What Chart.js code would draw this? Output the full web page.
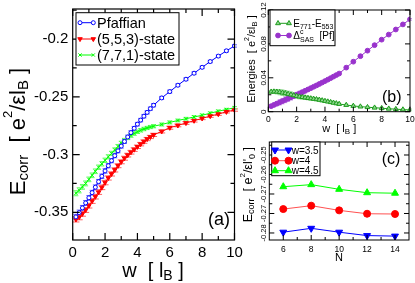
<!DOCTYPE html>
<html>
<head>
<meta charset="utf-8">
<title>Correlation energies</title>
<script src="https://cdn.jsdelivr.net/npm/chart.js@4.4.1/dist/chart.umd.min.js"></script>
<style>
  html, body { margin: 0; padding: 0; background: #fff; }
  #wrap { position: relative; width: 415px; height: 283px; overflow: hidden; }
  canvas { position: absolute; }
</style>
</head>
<body>
<div id="wrap">
  <canvas id="chartA" width="250" height="283" style="left:0;top:0"></canvas>
  <canvas id="chartB" width="205" height="140" style="left:210px;top:0"></canvas>
  <canvas id="chartC" width="205" height="153" style="left:210px;top:130px"></canvas>
</div>
<script>
// panel (a): correlation energy vs width w
const wA = [0.2, 0.4, 0.6, 0.8, 1.0, 1.2, 1.4, 1.6, 1.8, 2.0, 2.2, 2.4, 2.6, 2.8, 3.0, 3.2, 3.4, 3.6, 3.8, 4.0,
  4.2, 4.4, 4.6, 4.8, 5.0, 5.5, 6.0, 6.5, 7.0, 7.5, 8.0, 8.5, 9.0, 9.5, 10];
const pfaffian = [-0.3540, -0.3503, -0.3462, -0.3419, -0.3375, -0.3330, -0.3283, -0.3235, -0.3188, -0.3142,
  -0.3097, -0.3053, -0.3010, -0.2968, -0.2927, -0.2887, -0.2848, -0.2810, -0.2773, -0.2737,
  -0.2702, -0.2668, -0.2635, -0.2603, -0.2573, -0.2510, -0.2455, -0.2400, -0.2348, -0.2296,
  -0.2245, -0.2195, -0.2148, -0.2102, -0.2060];
const state553 = [-0.3562, -0.3543, -0.3513, -0.3480, -0.3443, -0.3403, -0.3365, -0.3326, -0.3285, -0.3243,
  -0.3203, -0.3168, -0.3133, -0.3097, -0.3063, -0.3032, -0.3005, -0.2980, -0.2957, -0.2933,
  -0.2910, -0.2888, -0.2866, -0.2848, -0.2830, -0.2800, -0.2768, -0.2748, -0.2727, -0.2707,
  -0.2687, -0.2667, -0.2650, -0.2630, -0.2615];
const state771 = [-0.3335, -0.3310, -0.3280, -0.3250, -0.3215, -0.3180, -0.3145, -0.3110, -0.3080, -0.3050,
  -0.3020, -0.2990, -0.2960, -0.2930, -0.2902, -0.2877, -0.2855, -0.2835, -0.2818, -0.2803,
  -0.2790, -0.2779, -0.2770, -0.2762, -0.2755, -0.2740, -0.2722, -0.2705, -0.2690, -0.2675,
  -0.2660, -0.2642, -0.2625, -0.2610, -0.2595];
const errA = [0.0022, 0.0022, 0.0021, 0.0021, 0.0020, 0.0020, 0.0020, 0.0019, 0.0019, 0.0019,
  0.0018, 0.0018, 0.0018, 0.0017, 0.0017, 0.0017, 0.0016, 0.0016, 0.0016, 0.0015,
  0.0015, 0.0015, 0.0014, 0.0014, 0.0014, 0.0013, 0.0013, 0.0012, 0.0012, 0.0012,
  0.0011, 0.0011, 0.0011, 0.0010, 0.0010];

// panel (b): energy differences
const gap771 = [0.0235, 0.0237, 0.0235, 0.0230, 0.0224, 0.0217, 0.0209, 0.0201, 0.0193, 0.0185,
  0.0178, 0.0172, 0.0166, 0.0161, 0.0156, 0.0151, 0.0146, 0.0140, 0.0133, 0.0126,
  0.0119, 0.0112, 0.0105, 0.0098, 0.0091, 0.0079, 0.0068, 0.0060, 0.0053, 0.0047,
  0.0041, 0.0035, 0.0030, 0.0025, 0.0021];
const deltaSAS = [0.0065, 0.0080, 0.0095, 0.0110, 0.0125, 0.0140, 0.0155, 0.0170, 0.0185, 0.0200,
  0.0215, 0.0230, 0.0246, 0.0262, 0.0278, 0.0294, 0.0310, 0.0327, 0.0344, 0.0361,
  0.0378, 0.0396, 0.0414, 0.0432, 0.0450, 0.0520, 0.0590, 0.0655, 0.0720, 0.0785,
  0.0850, 0.0910, 0.0970, 0.1030, 0.1090];
const errB = [0.0015, 0.0020, 0.0025, 0.0030, 0.0032, 0.0033, 0.0033, 0.0032, 0.0030, 0.0028,
  0.0026, 0.0024, 0.0022, 0.0020, 0.0018, 0.0017, 0.0016, 0.0015, 0.0014, 0.0013,
  0.0013, 0.0012, 0.0012, 0.0011, 0.0011, 0.0010, 0.0010, 0.0010, 0.0010, 0.0010,
  0.0010, 0.0010, 0.0010, 0.0010, 0.0010];

// panel (c): energy vs particle number N
const nC = [6, 8, 10, 12, 14];
const w35 = [-0.2797, -0.2782, -0.2797, -0.2810, -0.2812];
const w4 = [-0.2708, -0.2695, -0.2713, -0.2726, -0.2727];
const w45 = [-0.2622, -0.2614, -0.2632, -0.2645, -0.2647];

// tick labels
const ticksW = [0, 2, 4, 6, 8, 10];
const ticksAy = [-0.35, -0.3, -0.25, -0.2];
const ticksBy = [0, 0.04, 0.08, 0.12];
const ticksCx = [6, 8, 10, 12, 14];
const ticksCy = [-0.28, -0.2725, -0.265, -0.2575, -0.25];

const FONT = '"Liberation Sans", Arial, Helvetica, sans-serif';
const f = size => size + 'px ' + FONT;
const seg = (t, size, dy, adv) => ({ t, size, dy: dy || 0, adv: adv !== false });
const pts = (xs, ys) => xs.map((x, i) => ({ x, y: ys[i] }));

// text with sub/superscripts, centred (or left aligned) at x,y
function rich(ctx, segs, x, y, rot, align) {
  ctx.save();
  ctx.translate(x, y);
  if (rot) ctx.rotate(-Math.PI / 2);
  ctx.textAlign = 'left';
  ctx.textBaseline = 'alphabetic';
  ctx.fillStyle = '#000';
  let w = 0;
  for (const s of segs) { ctx.font = f(s.size); if (s.adv) w += ctx.measureText(s.t).width; }
  let cx = align === 'left' ? 0 : -w / 2;
  for (const s of segs) {
    ctx.font = f(s.size);
    ctx.fillText(s.t, cx, s.dy);
    if (s.adv) cx += ctx.measureText(s.t).width;
  }
  ctx.restore();
}

function minorTicks(scale) {
  const v = scale.ticks.map(t => t.value);
  const out = [];
  for (let i = 0; i < v.length - 1; i++) out.push((v[i] + v[i + 1]) / 2);
  if (v.length > 1) {
    const h = (v[1] - v[0]) / 2;
    out.push(v[0] - h, v[v.length - 1] + h);
  }
  return out.filter(m => m > scale.min && m < scale.max);
}

const errorBars = {
  id: 'errorBars',
  beforeDatasetsDraw(chart) {
    const ctx = chart.ctx, y = chart.scales.y;
    chart.data.datasets.forEach((ds, i) => {
      if (!ds.err) return;
      const meta = chart.getDatasetMeta(i);
      const c = ds.errCap;
      ctx.save();
      ctx.strokeStyle = ds.errColor;
      ctx.lineWidth = 1;
      ctx.beginPath();
      meta.data.forEach((pt, j) => {
        const y1 = y.getPixelForValue(ds.data[j].y + ds.err[j]);
        const y2 = y.getPixelForValue(ds.data[j].y - ds.err[j]);
        ctx.moveTo(pt.x, y1); ctx.lineTo(pt.x, y2);
        ctx.moveTo(pt.x - c, y1); ctx.lineTo(pt.x + c, y1);
        ctx.moveTo(pt.x - c, y2); ctx.lineTo(pt.x + c, y2);
      });
      ctx.stroke();
      ctx.restore();
    });
  }
};

// box frame, inward ticks, labels, titles and legend
function makeFrame(cfg) {
  return {
    id: 'frame',
    afterDatasetsDraw(chart) {
      const ctx = chart.ctx, a = chart.chartArea;
      const x = chart.scales.x, y = chart.scales.y;
      ctx.save();
      ctx.strokeStyle = '#000';
      ctx.lineWidth = cfg.lw;
      ctx.strokeRect(a.left, a.top, a.right - a.left, a.bottom - a.top);
      ctx.beginPath();
      const xt = (v, len) => {
        const p = x.getPixelForValue(v);
        ctx.moveTo(p, a.bottom); ctx.lineTo(p, a.bottom - len);
        ctx.moveTo(p, a.top); ctx.lineTo(p, a.top + len);
      };
      const yt = (v, len) => {
        const p = y.getPixelForValue(v);
        ctx.moveTo(a.left, p); ctx.lineTo(a.left + len, p);
        ctx.moveTo(a.right, p); ctx.lineTo(a.right - len, p);
      };
      x.ticks.forEach(t => xt(t.value, cfg.major));
      y.ticks.forEach(t => yt(t.value, cfg.major));
      minorTicks(x).forEach(v => xt(v, cfg.minor));
      minorTicks(y).forEach(v => yt(v, cfg.minor));
      ctx.stroke();

      ctx.fillStyle = '#000';
      ctx.font = f(cfg.tickSize);
      ctx.textAlign = 'center';
      ctx.textBaseline = 'alphabetic';
      x.ticks.forEach(t => ctx.fillText(t.label, x.getPixelForValue(t.value), a.bottom + cfg.xLabelDy));
      ctx.font = f(cfg.yTickSize || cfg.tickSize);
      y.ticks.forEach(t => {
        const p = y.getPixelForValue(t.value);
        if (cfg.yRot) {
          ctx.save();
          ctx.translate(a.left - cfg.yLabelDx, p);
          ctx.rotate(-Math.PI / 2);
          ctx.textAlign = 'center';
          ctx.textBaseline = 'alphabetic';
          ctx.fillText(t.label, 0, 0);
          ctx.restore();
        } else {
          ctx.textAlign = 'right';
          ctx.textBaseline = 'middle';
          ctx.fillText(t.label, a.left - cfg.yLabelDx, p);
        }
      });
      ctx.restore();

      rich(ctx, cfg.xTitle.segs, cfg.xTitle.x, cfg.xTitle.y, false);
      rich(ctx, cfg.yTitle.segs, cfg.yTitle.x, cfg.yTitle.y, true);
      rich(ctx, [seg(cfg.tag.text, cfg.tag.size)], cfg.tag.x, cfg.tag.y, false);

      const L = cfg.legend;
      ctx.save();
      ctx.fillStyle = '#fff';
      ctx.fillRect(L.box[0], L.box[1], L.box[2] - L.box[0], L.box[3] - L.box[1]);
      ctx.strokeStyle = '#000';
      ctx.lineWidth = 1;
      ctx.strokeRect(L.box[0], L.box[1], L.box[2] - L.box[0], L.box[3] - L.box[1]);
      chart.data.datasets.forEach((ds, i) => {
        const yy = L.rows[i];
        ctx.strokeStyle = ds.borderColor;
        ctx.lineWidth = ds.borderWidth;
        ctx.beginPath();
        ctx.moveTo(L.line[0], yy); ctx.lineTo(L.line[1], yy);
        ctx.stroke();
        ctx.fillStyle = ds.pointBackgroundColor;
        ctx.strokeStyle = ds.pointBorderColor;
        ctx.lineWidth = ds.pointBorderWidth;
        const po = { pointStyle: ds.pointStyle, rotation: ds.pointRotation || 0, radius: ds.pointRadius, borderWidth: ds.pointBorderWidth };
        Chart.helpers.drawPoint(ctx, po, L.line[0], yy);
        Chart.helpers.drawPoint(ctx, po, L.line[1], yy);
        rich(ctx, ds.legendSegs, L.textX, yy + L.dy, false, 'left');
      });
      ctx.restore();
    }
  };
}

function makeChart(id, datasets, sc, cfg) {
  return new Chart(document.getElementById(id), {
    type: 'scatter',
    data: { datasets },
    options: {
      responsive: false,
      animation: false,
      devicePixelRatio: 1,
      layout: { padding: cfg.pad },
      plugins: { legend: { display: false }, tooltip: { enabled: false } },
      scales: {
        x: {
          type: 'linear', min: sc.xMin, max: sc.xMax,
          grid: { display: false }, border: { display: false },
          ticks: { display: false, callback: v => String(v) },
          afterBuildTicks: s => { s.ticks = sc.xTicks.map(v => ({ value: v })); },
          afterFit: s => { s.height = cfg.xH; }
        },
        y: {
          type: 'linear', min: sc.yMin, max: sc.yMax,
          grid: { display: false }, border: { display: false },
          ticks: { display: false, callback: sc.yFmt },
          afterBuildTicks: s => { s.ticks = sc.yTicks.map(v => ({ value: v })); },
          afterFit: s => { s.width = cfg.yW; }
        }
      }
    },
    plugins: [errorBars, makeFrame(cfg)]
  });
}

// (a)
makeChart('chartA', [
  { label: 'Pfaffian', legendSegs: [seg('Pfaffian', 14.5)], data: pts(wA, pfaffian), showLine: true,
    borderColor: '#0000ff', borderWidth: 1, pointStyle: 'circle', pointRadius: 2, pointBorderWidth: 1,
    pointBackgroundColor: '#ffffff', pointBorderColor: '#0000ff', err: errA, errColor: '#6060ff', errCap: 2.5 },
  { label: '(5,5,3)-state', legendSegs: [seg('(5,5,3)-state', 14.5)], data: pts(wA, state553), showLine: true,
    borderColor: '#ff0000', borderWidth: 1, pointStyle: 'triangle', pointRotation: 180, pointRadius: 2.6, pointBorderWidth: 1,
    pointBackgroundColor: '#ff0000', pointBorderColor: '#ff0000', err: errA, errColor: '#ff6060', errCap: 3.5 },
  { label: '(7,7,1)-state', legendSegs: [seg('(7,7,1)-state', 14.5)], data: pts(wA, state771), showLine: true,
    borderColor: '#00ff00', borderWidth: 1, pointStyle: 'crossRot', pointRadius: 2.3, pointBorderWidth: 1,
    pointBackgroundColor: '#00ff00', pointBorderColor: '#00ff00', err: errA, errColor: '#66ff66', errCap: 2.5 }
], { xMin: 0, xMax: 10, xTicks: ticksW, yMin: -0.374, yMax: -0.174, yTicks: ticksAy, yFmt: v => String(v) }, {
  pad: { top: 9, right: 15.5, left: 0, bottom: 0 }, yW: 72.7, xH: 43,
  lw: 1.2, major: 7, minor: 4, tickSize: 15, xLabelDy: 16.7, yLabelDx: 4.4, yRot: false,
  xTitle: { segs: [seg('w  [ l', 20), seg('B', 14, 3), seg(' ]', 20)], x: 153, y: 277 },
  yTitle: { segs: [seg('E', 22), seg('corr', 15, 3), seg('  [ e', 22), seg('2', 13, -13), seg('/εl', 22), seg('B', 15, 3), seg(' ]', 22)], x: 25, y: 131.5 },
  tag: { text: '(a)', size: 18, x: 219, y: 225 },
  legend: { box: [76, 12.7, 179, 65], rows: [22.7, 39, 55], line: [80, 93.3], textX: 97, dy: 5 }
});

// (b)
makeChart('chartB', [
  { label: 'E771-E553', legendSegs: [seg('E', 10), seg('771', 7, 2), seg('-E', 10), seg('553', 7, 2)], data: pts(wA, gap771), showLine: true,
    borderColor: '#1e9b1e', borderWidth: 1, pointStyle: 'triangle', pointRadius: 2.8, pointBorderWidth: 1,
    pointBackgroundColor: '#8fd88f', pointBorderColor: '#1e9b1e', err: errB, errColor: '#8fd88f', errCap: 2 },
  { label: 'Delta SAS', legendSegs: [seg('Δ', 10), seg('c', 7, -5, false), seg('SAS', 7, 2.5), seg('  [Pf]', 10)], data: pts(wA, deltaSAS), showLine: true,
    borderColor: '#9933cc', borderWidth: 1, pointStyle: 'circle', pointRadius: 2.4, pointBorderWidth: 1,
    pointBackgroundColor: '#9933cc', pointBorderColor: '#9933cc', err: errB, errColor: '#c58be8', errCap: 2 }
], { xMin: 0, xMax: 10, xTicks: ticksW, yMin: 0, yMax: 0.12, yTicks: ticksBy, yFmt: v => String(v) }, {
  pad: { top: 10, right: 5, left: 0, bottom: 0 }, yW: 58.3, xH: 28.3,
  lw: 1, major: 5, minor: 3, tickSize: 8.5, yTickSize: 8, xLabelDy: 10, yLabelDx: 2.8, yRot: true,
  xTitle: { segs: [seg('w  [ l', 11), seg('B', 8, 2), seg(' ]', 11)], x: 129.2, y: 131.7 },
  yTitle: { segs: [seg('Energies  [ e', 11), seg('2', 7, -6), seg('/εl', 11), seg('B', 8, 2), seg(' ]', 11)], x: 45, y: 59 },
  tag: { text: '(b)', size: 16, x: 181.7, y: 102 },
  legend: { box: [60, 10, 125, 45.7], rows: [23.3, 35.5], line: [68, 79], textX: 83.3, dy: 3.5 }
});

// (c)
makeChart('chartC', [
  { label: 'w=3.5', legendSegs: [seg('w=3.5', 10)], data: pts(nC, w35), showLine: true,
    borderColor: '#0000ff', borderWidth: 1, pointStyle: 'triangle', pointRotation: 180, pointRadius: 4, pointBorderWidth: 1,
    pointBackgroundColor: '#0000ff', pointBorderColor: '#0000ff' },
  { label: 'w=4', legendSegs: [seg('w=4', 10)], data: pts(nC, w4), showLine: true,
    borderColor: '#ff5050', borderWidth: 1, pointStyle: 'circle', pointRadius: 3.5, pointBorderWidth: 1,
    pointBackgroundColor: '#ff0000', pointBorderColor: '#ff0000' },
  { label: 'w=4.5', legendSegs: [seg('w=4.5', 10)], data: pts(nC, w45), showLine: true,
    borderColor: '#00ff00', borderWidth: 1, pointStyle: 'triangle', pointRadius: 4, pointBorderWidth: 1,
    pointBackgroundColor: '#00ff00', pointBorderColor: '#00ff00' }
], { xMin: 5, xMax: 15, xTicks: ticksCx, yMin: -0.2827, yMax: -0.245, yTicks: ticksCy, yFmt: v => v.toFixed(2) }, {
  pad: { top: 12, right: 6, left: 0, bottom: 0 }, yW: 59.3, xH: 43,
  lw: 1, major: 5, minor: 3, tickSize: 8.5, yTickSize: 7.5, xLabelDy: 11.7, yLabelDx: 3.3, yRot: true,
  xTitle: { segs: [seg('N', 11)], x: 129, y: 130.7 },
  yTitle: { segs: [seg('E', 12.5), seg('corr', 9, 2), seg('  [ e', 12.5), seg('2', 8, -7), seg("/εl'", 12.5), seg('0', 9, 2.5), seg(' ]', 12.5)], x: 42, y: 54.6 },
  tag: { text: '(c)', size: 16, x: 181, y: 33.5 },
  legend: { box: [61.7, 12, 110, 45.7], rows: [20, 30.7, 40.7], line: [65, 78.5], textX: 81.7, dy: 3.5 }
});
</script>
</body>
</html>
